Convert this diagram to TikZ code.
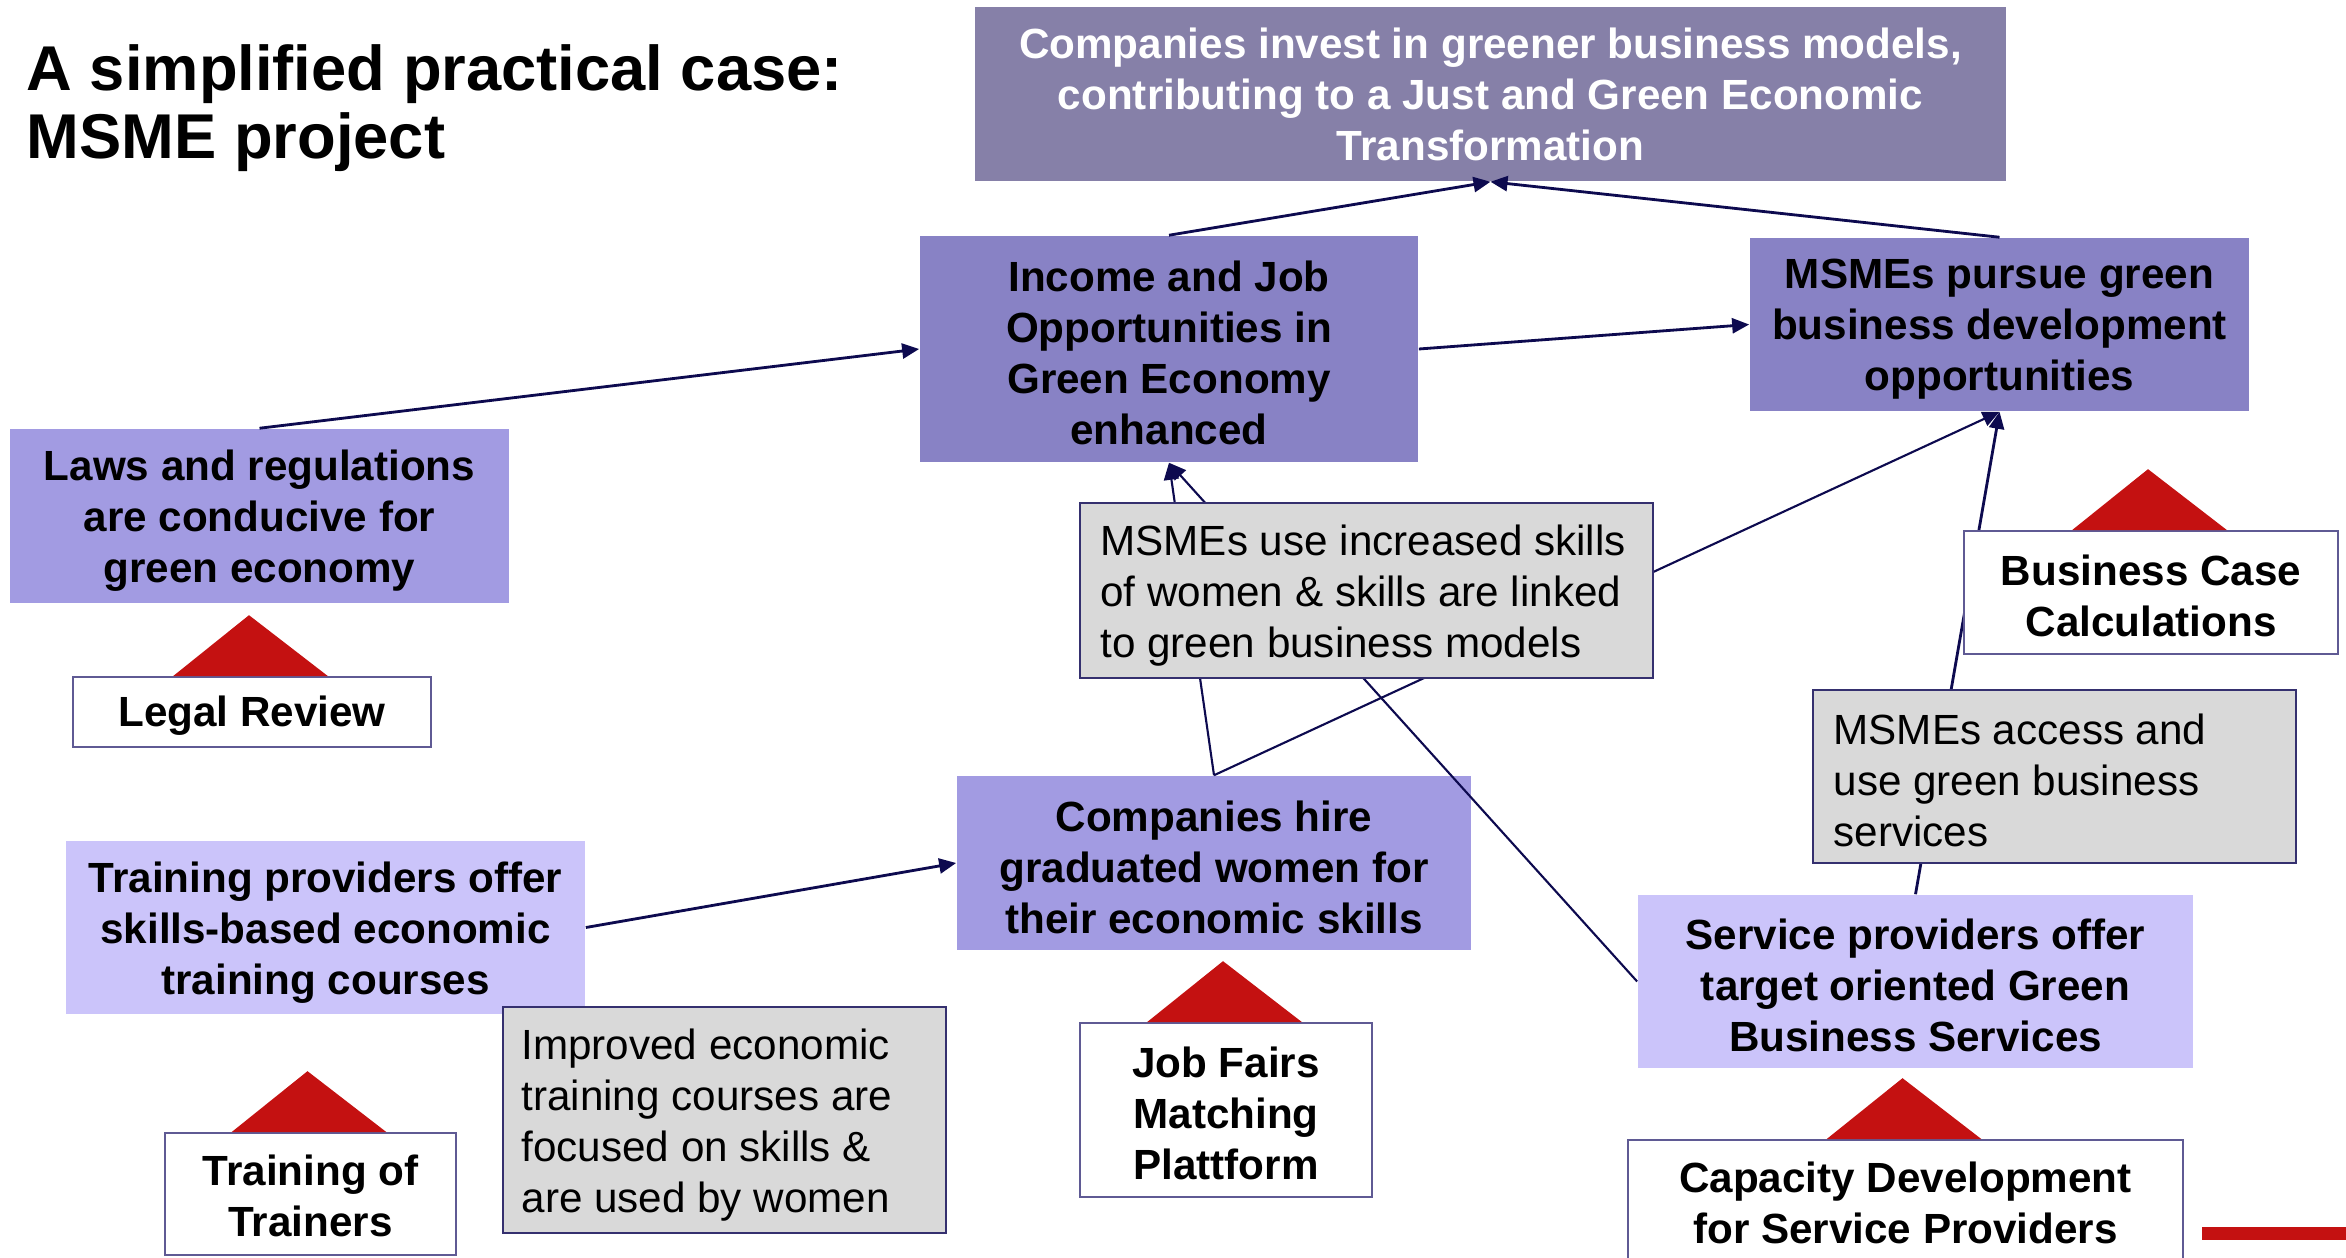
\documentclass[tikz,border=0pt]{standalone}
\usepackage{fontspec}
\setmainfont{Liberation Sans}
\usetikzlibrary{arrows.meta,calc}

\definecolor{navy}{HTML}{0D0A4F}
\definecolor{topfill}{HTML}{8680A8}
\definecolor{midfill}{HTML}{8882C5}
\definecolor{lowfill}{HTML}{A29BE2}
\definecolor{palefill}{HTML}{CBC4FA}
\definecolor{grayfill}{HTML}{D9D9D9}
\definecolor{grayedge}{HTML}{35306F}
\definecolor{whiteedge}{HTML}{5F5A94}
\definecolor{redmark}{HTML}{C41111}

\tikzset{
  shell/.style={inner sep=0pt},
  result/.style={shell},
  assumption/.style={shell, fill=grayfill, draw=grayedge, line width=0.6pt},
  activity/.style={shell, fill=white, draw=whiteedge, line width=0.45pt},
  boldtext/.style={inner sep=0pt, align=center,
    font=\bfseries\fontsize{12}{14.5}\selectfont},
  plaintext/.style={inner sep=0pt, align=left,
    font=\fontsize{12}{14.5}\selectfont},
  link/.style={draw=navy, line width=0.8pt,
    -{Triangle[length=0.17cm,width=0.15cm]}},
  thinlink/.style={link, line width=0.6pt},
  marker/.style={fill=redmark}
}

\begin{document}
\begin{tikzpicture}[x=0.01cm,y=-0.01cm]
\useasboundingbox (0,0) rectangle (2346,1258);
\fill[white] (0,0) rectangle (2346,1258);

% heading
\node[anchor=base west, inner sep=0pt, font=\bfseries\fontsize{18}{19.4}\selectfont]
  (head1) at (26,91) {A simplified practical case:};
\node[anchor=base west, inner sep=0pt, font=\bfseries\fontsize{18}{19.4}\selectfont]
  (head2) at (26,159) {MSME project};

% results chain: boxes
\node[result, fill=topfill, minimum width=10.31cm, minimum height=1.74cm]
  (goal) at (1490.5,94) {};
\node[result, fill=midfill, minimum width=4.98cm, minimum height=2.26cm]
  (income) at (1169,349) {};
\node[result, fill=midfill, minimum width=4.99cm, minimum height=1.73cm]
  (pursue) at (1999.5,324.5) {};
\node[result, fill=lowfill, minimum width=4.99cm, minimum height=1.74cm]
  (laws) at (259.5,516) {};
\node[result, fill=lowfill, minimum width=5.14cm, minimum height=1.74cm]
  (hire) at (1214,863) {};
\node[result, fill=palefill, minimum width=5.19cm, minimum height=1.73cm]
  (trainprov) at (325.5,927.5) {};
\node[result, fill=palefill, minimum width=5.55cm, minimum height=1.73cm]
  (servprov) at (1915.5,981.5) {};

% results chain: texts
\node[boldtext, text=white] (goal-t) at (goal.center)
  {Companies invest in greener business models,\\contributing to a Just and Green Economic\\Transformation};
\node[boldtext] (income-t) at ([yshift=-0.04cm]income.center)
  {Income and Job\\Opportunities in\\Green Economy\\enhanced};
\node[boldtext] (pursue-t) at ([yshift=-0.05cm]pursue.center)
  {MSMEs pursue green\\business development\\opportunities};
\node[boldtext] (laws-t) at ([yshift=-0.05cm]laws.center)
  {Laws and regulations\\are conducive for\\green economy};
\node[boldtext] (hire-t) at ([yshift=-0.04cm]hire.center)
  {Companies hire\\graduated women for\\their economic skills};
\node[boldtext] (trainprov-t) at ([yshift=-0.05cm]trainprov.center)
  {Training providers offer\\skills-based economic\\training courses};
\node[boldtext] (servprov-t) at ([yshift=-0.04cm]servprov.center)
  {Service providers offer\\target oriented Green\\Business Services};

% causal links
\draw[link] (laws.north) -- (income.west);
\draw[link] (income.north) -- (goal.south);
\draw[link] (pursue.north) -- (goal.south);
\draw[link] (income.east) -- (pursue.west);
\draw[link] (trainprov.east) -- (hire.west);
\draw[thinlink] (hire.north) -- (income.south);
\draw[thinlink] (hire.north) -- (pursue.south);
\draw[thinlink] (servprov.west) -- (income.south);
\draw[link] (servprov.north) -- (pursue.south);

% assumptions
\node[assumption, minimum width=5.73cm, minimum height=1.75cm]
  (useskills) at (1366.5,590.5) {};
\node[assumption, minimum width=4.83cm, minimum height=1.73cm]
  (access) at (2054.5,776.5) {};
\node[assumption, minimum width=4.43cm, minimum height=2.26cm]
  (improved) at (724.5,1120) {};
\node[plaintext, anchor=west] (useskills-t) at ([xshift=0.21cm,yshift=-0.05cm]useskills.west)
  {MSMEs use increased skills\\of women \& skills are linked\\to green business models};
\node[plaintext, anchor=west] (access-t) at ([xshift=0.21cm,yshift=-0.04cm]access.west)
  {MSMEs access and\\use green business\\services};
\node[plaintext, anchor=west] (improved-t) at ([xshift=0.19cm,yshift=-0.05cm]improved.west)
  {Improved economic\\training courses are\\focused on skills \&\\are used by women};

% activities
\node[activity, minimum width=3.58cm, minimum height=0.70cm]
  (legal) at (252,712) {};
\node[activity, minimum width=3.74cm, minimum height=1.23cm]
  (bcase) at (2151,592.5) {};
\node[activity, minimum width=2.91cm, minimum height=1.22cm]
  (tot) at (310.5,1194) {};
\node[activity, minimum width=2.92cm, minimum height=1.74cm]
  (jobfair) at (1226,1110) {};
\node[activity, minimum width=5.55cm, minimum height=1.26cm]
  (capdev) at (1905.5,1203) {};
\node[boldtext] (legal-t) at ([yshift=-0.04cm]legal.center) {Legal Review};
\node[boldtext] (bcase-t) at ([yshift=-0.03cm]bcase.center) {Business Case\\Calculations};
\node[boldtext] (tot-t) at ([yshift=-0.02cm]tot.center) {Training of\\Trainers};
\node[boldtext] (jobfair-t) at ([yshift=-0.03cm]jobfair.center) {Job Fairs\\Matching\\Plattform};
\node[boldtext] (capdev-t) at (capdev.center) {Capacity Development\\for Service Providers};

% red markers above the activities
\foreach \a in {legal,bcase,tot,jobfair,capdev}{
  \fill[marker] ($(\a.north)+(-79,0)$) -- ($(\a.north)+(-3,-61)$)
    -- ($(\a.north)+(76,0)$) -- cycle;
}

% corner bar
\fill[redmark] (2202,1227) rectangle (2346,1240);
\end{tikzpicture}
\end{document}
